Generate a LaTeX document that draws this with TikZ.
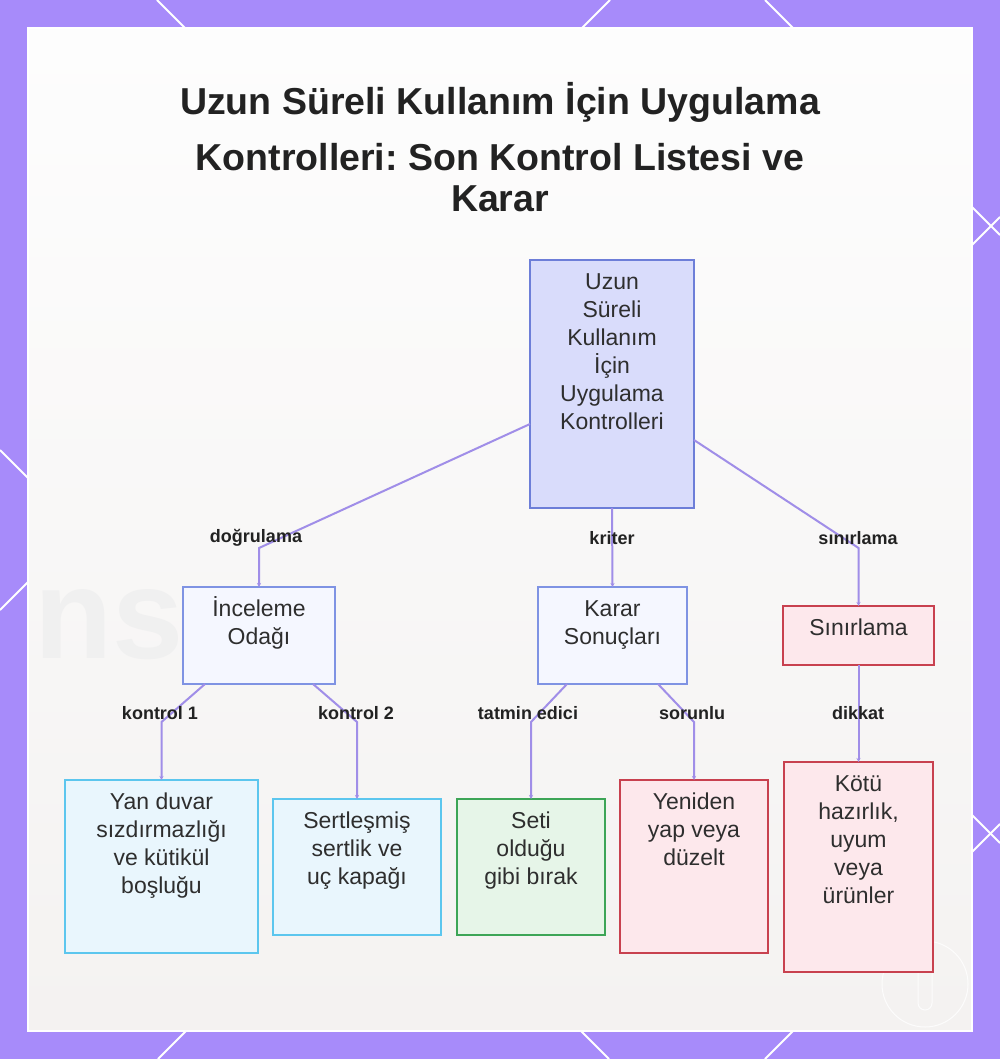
\documentclass[tikz,border=0pt]{standalone}
\usepackage{fontspec}
\setmainfont{Liberation Sans}
\frenchspacing
\usetikzlibrary{arrows.meta,calc}
\definecolor{framec}{HTML}{A78BFA}
\definecolor{connc}{HTML}{A08EE8}
\definecolor{txtc}{HTML}{2E2E2E}
\definecolor{titlec}{HTML}{222222}
\definecolor{rootfill}{HTML}{D9DCFB}
\definecolor{rootdraw}{HTML}{6D7ED8}
\definecolor{midfill}{HTML}{F5F7FF}
\definecolor{middraw}{HTML}{7F93E3}
\definecolor{redfill}{HTML}{FDE8EC}
\definecolor{reddraw}{HTML}{C8414F}
\definecolor{cyanfill}{HTML}{E9F6FD}
\definecolor{cyandraw}{HTML}{5CC6EE}
\definecolor{greenfill}{HTML}{E6F5E8}
\definecolor{greendraw}{HTML}{3DA557}
\definecolor{paneltop}{HTML}{FDFDFD}
\definecolor{panelmid}{HTML}{F8F4F3}
\definecolor{panelbot}{HTML}{F4F2F1}
\newcommand{\bx}[3]{\begin{minipage}[t][#2pt][t]{#1pt}\centering\fontsize{23}{28}\selectfont\rule{0pt}{29.5pt}#3\end{minipage}}
\begin{document}
\begin{tikzpicture}[x=1pt,y=-1pt,
  boxbase/.style={draw, line width=2pt, inner sep=0pt, outer sep=0pt, rectangle, text=txtc},
  rootbox/.style={boxbase, fill=rootfill, draw=rootdraw},
  midbox/.style={boxbase, fill=midfill, draw=middraw},
  redbox/.style={boxbase, fill=redfill, draw=reddraw},
  cyanbox/.style={boxbase, fill=cyanfill, draw=cyandraw},
  greenbox/.style={boxbase, fill=greenfill, draw=greendraw},
  conn/.style={draw=connc, line width=2pt, -{Stealth[length=4pt,width=4pt]}},
  lbl/.style={font=\fontsize{18}{22}\selectfont\bfseries, text=titlec, inner sep=1pt},
  ttl/.style={font=\fontsize{37.5}{45}\selectfont\bfseries, text=titlec, anchor=base, inner sep=0pt},
  deco/.style={draw=white, line width=2pt}
]
\useasboundingbox (0,0) rectangle (1000,1059);
% frame
\fill[framec] (0,0) rectangle (1000,1059);
\draw[deco] (157,0) -- (1000,843);
\draw[deco] (765,0) -- (1000,235);
\draw[deco] (0,450) -- (609,1059);
\draw[deco] (610,0) -- (0,610);
\draw[deco] (1000,217) -- (158,1059);
\draw[deco] (1000,824) -- (765,1059);
% panel
\shade[top color=paneltop, middle color=panelmid, bottom color=panelbot] (28,28) rectangle (972,1031);
\draw[white, line width=2pt] (28,28) rectangle (972,1031);
% faint background text
\node[font=\fontsize{128}{128}\selectfont\bfseries, text=black!6, anchor=base west, inner sep=0pt] (bgns) at (34,658) {ns};
% watermark
\draw[white, line width=1pt, opacity=0.8] (925,984) circle (43);
\draw[white, line width=1pt, opacity=0.8, rounded corners=7pt] (918,958) rectangle (932,1010);

% title
\node[ttl] (t1) at (500,115) {Uzun Süreli Kullanım İçin Uygulama};
\node[ttl] (t2) at (500,171) {Kontrolleri: Son Kontrol Listesi ve};
\node[ttl] (t3) at (500,212) {Karar};

% nodes
\node[rootbox] (root) at (612,384) {\bx{164}{248}{Uzun\\Süreli\\Kullanım\\İçin\\Uygulama\\Kontrolleri}};
\node[midbox] (inc) at (259,635.5) {\bx{152}{97}{İnceleme\\Odağı}};
\node[midbox] (kar) at (612.5,635.5) {\bx{149}{97}{Karar\\Sonuçları}};
\node[redbox] (sin) at (858.5,635.5) {\bx{151}{59}{Sınırlama}};
\node[cyanbox] (yan) at (161.5,866.5) {\bx{193}{173}{Yan duvar\\sızdırmazlığı\\ve kütikül\\boşluğu}};
\node[cyanbox] (sert) at (357,867) {\bx{168}{136}{Sertleşmiş\\sertlik ve\\uç kapağı}};
\node[greenbox] (seti) at (531,867) {\bx{148}{136}{Seti\\olduğu\\gibi bırak}};
\node[redbox] (yen) at (694,866.5) {\bx{148}{173}{Yeniden\\yap veya\\düzelt}};
\node[redbox] (kotu) at (858.5,867) {\bx{149}{210}{Kötü\\hazırlık,\\uyum\\veya\\ürünler}};

% connectors
\draw[conn] ([yshift=-40pt]root.west) -- ($(inc.north)+(0,-39)$) -- (inc.north);
\draw[conn] (root.south) -- (kar.north);
\draw[conn] ([yshift=-56pt]root.east) -- ($(sin.north)+(0,-58)$) -- (sin.north);
\draw[conn] ([xshift=-54pt]inc.south) -- ($(yan.north)+(0,-58)$) -- (yan.north);
\draw[conn] ([xshift=54pt]inc.south) -- ($(sert.north)+(0,-77)$) -- (sert.north);
\draw[conn] ([xshift=-45.5pt]kar.south) -- ($(seti.north)+(0,-77)$) -- (seti.north);
\draw[conn] ([xshift=45.5pt]kar.south) -- ($(yen.north)+(0,-58)$) -- (yen.north);
\draw[conn] (sin.south) -- (kotu.north);

% labels
\node[lbl] (l1) at (256,538) {doğrulama};
\node[lbl] (l2) at (612,538) {kriter};
\node[lbl] (l3) at (858,538) {sınırlama};
\node[lbl] (l4) at (160,713) {kontrol 1};
\node[lbl] (l5) at (356,713) {kontrol 2};
\node[lbl] (l6) at (528,713) {tatmin edici};
\node[lbl] (l7) at (692,713) {sorunlu};
\node[lbl] (l8) at (858,713) {dikkat};
\end{tikzpicture}
\end{document}
